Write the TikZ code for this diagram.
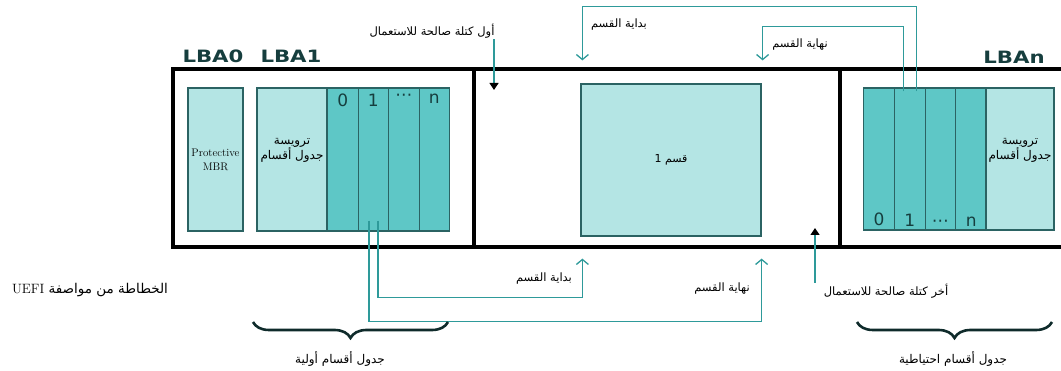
\documentclass[tikz,border=0pt]{standalone}
\usepackage{fontspec}
\usetikzlibrary{positioning,calc,arrows.meta,decorations.pathreplacing}
\TeXXeTstate=1
\newfontfamily\arabicfont[Script=Arabic]{DejaVu Sans}
\newfontfamily\lbafont[FakeStretch=1.25]{DejaVu Sans}
\newfontfamily\digitfont{DejaVu Sans}
\newcommand{\arlabel}[1]{{\arabicfont\beginR #1\endR}}

\definecolor{lightteal}{HTML}{B4E5E4}
\definecolor{midteal}{HTML}{5EC7C6}
\definecolor{edgeteal}{HTML}{2B6363}
\definecolor{linkteal}{HTML}{2E9A9A}
\definecolor{inkteal}{HTML}{163E3E}

\tikzset{
  hdrbox/.style={draw=edgeteal, line width=1.2pt, fill=lightteal, inner sep=0pt, align=center,
                 font=\fontsize{12}{15}\selectfont},
  entrybox/.style={draw=edgeteal, line width=1.2pt, fill=midteal, inner sep=0pt,
                   minimum width=30.5pt, minimum height=143pt},
  frame/.style={line width=4pt},
  link/.style={draw=linkteal, line width=1.3pt, -{Straight Barb[length=5pt,width=12pt]}},
  usable/.style={draw=linkteal, line width=1.3pt, -{Triangle[length=7pt,width=9pt,fill=black,color=black]}},
  lbl/.style={font=\fontsize{11.5}{13}\selectfont, inner sep=1pt},
  lba/.style={font=\lbafont\bfseries\fontsize{17}{17}\selectfont, text=inkteal},
  digit/.style={font=\digitfont\fontsize{17}{17}\selectfont, text=inkteal},
  brace/.style={decorate, decoration={brace, mirror, amplitude=16pt}, line width=2.6pt, draw=inkteal!70!black}
}

\begin{document}
\begin{tikzpicture}[x=1pt,y=-1pt]

  \useasboundingbox (0,0) rectangle (1061,371);

  % disk frame
  \draw[frame] (1061,69) -- (173,69) -- (173,247) -- (1061,247);
  \draw[frame] (474,69) -- (474,247);
  \draw[frame] (840,69) -- (840,247);

  \node[lba] (lba0) at (213,56) {LBA0};
  \node[lba] (lba1) at (291,56) {LBA1};
  \node[lba] (lban) at (1014,57) {LBAn};

  % primary table
  \node[hdrbox, font=\fontsize{11}{14}\selectfont, minimum width=55pt, minimum height=143pt] (mbr)
        at (215.5,159.5) {Protective\\MBR};
  \node[hdrbox, minimum width=70pt, minimum height=143pt] (phdr) at (292,159.5)
        {\arlabel{ترويسة}\\\arlabel{جدول أقسام}\\[6pt]};
  \foreach \i/\t in {0/0,1/1,2/⋯,3/n}{
    \node[entrybox, anchor=west] (p\i) at (327+30.5*\i,159.5) {};
    \node[digit, anchor=north] at ([yshift=-3pt]p\i.north) {\t};
  }

  % partition
  \node[hdrbox, font=\fontsize{11}{13}\selectfont, minimum width=180pt, minimum height=152pt] (part) at (671,160)
        {\arlabel{قسم 1}};

  % backup table
  \foreach \i/\t in {0/0,1/1,2/⋯,3/n}{
    \node[entrybox, minimum width=30.75pt, minimum height=142pt, anchor=west] (b\i) at (863+30.75*\i,159) {};
    \node[digit, anchor=south] at ([yshift=1pt]b\i.south) {\t};
  }
  \node[hdrbox, minimum width=68pt, minimum height=142pt] (bhdr) at (1020,159)
        {\arlabel{ترويسة}\\\arlabel{جدول أقسام}\\[6pt]};

  % partition entry links
  \draw[link] ([xshift=4.5pt,yshift=11pt]p1.south) -- ++(0,77) -| ($(part.south west)+(2,22)$);
  \draw[link] ([xshift=-4.5pt,yshift=11pt]p1.south) -- ++(0,101) -| ($(part.south east)+(0,22)$);
  \draw[link] ([xshift=7pt,yshift=-4pt]b1.north) -- ++(0,-85) -| ($(part.north west)+(2,-23)$);
  \draw[link] ([xshift=-6pt,yshift=-4pt]b1.north) -- ++(0,-65) -| ($(part.north east)+(1,-23)$);

  \node[lbl] (startlo) at (544,279) {\arlabel{بداية القسم}};
  \node[lbl] (endlo) at (722,289) {\arlabel{نهاية القسم}};
  \node[lbl] (starthi) at (619,25) {\arlabel{بداية القسم}};
  \node[lbl] (endhi) at (800,45) {\arlabel{نهاية القسم}};

  % usable blocks
  \node[lbl] (firstlbl) at (432,31) {\arlabel{أول كتلة صالحة للاستعمال}};
  \coordinate (firstend) at (494,90);
  \draw[usable] (firstlbl.south -| firstend) -- (firstend);

  \node[lbl] (lastlbl) at (886,291) {\arlabel{أخر كتلة صالحة للاستعمال}};
  \coordinate (lastend) at (815,228);
  \draw[usable] (lastlbl.north -| lastend) -- (lastend);

  \node[lbl, font=\fontsize{13.5}{15}\selectfont] (spec) at (90,290)
        {\arlabel{الخطاطة من مواصفة \beginL{\rmfamily UEFI}\endL}};

  % braces
  \draw[brace] (253,322) -- (448,322);
  \draw[brace] (857,322) -- (1052,322);
  \node[lbl, font=\fontsize{12}{14}\selectfont] (primlbl) at (340,359) {\arlabel{جدول أقسام أولية}};
  \node[lbl, font=\fontsize{12}{14}\selectfont] (backlbl) at (953,359) {\arlabel{جدول أقسام احتياطية}};

\end{tikzpicture}
\end{document}
